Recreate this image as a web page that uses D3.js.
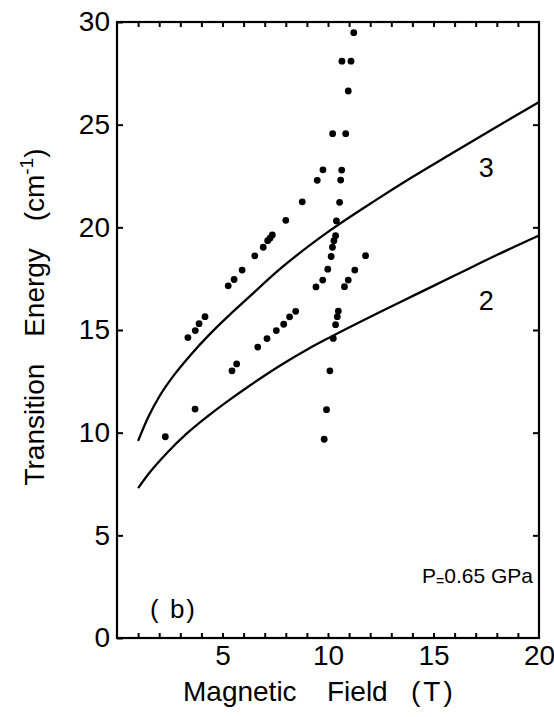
<!DOCTYPE html>
<html><head><meta charset="utf-8">
<script src="https://cdn.jsdelivr.net/npm/d3@7"></script>
<style>
body{margin:0;background:#fff}
svg{display:block}
text{font-family:"Liberation Sans",Arial,Helvetica,sans-serif;fill:#000}
</style>
</head><body>
<svg id="chart" width="554" height="717"></svg>
<script>
// ---- data ----
const xTickLabels = [5, 10, 15, 20];
const yTickLabels = [0, 5, 10, 15, 20, 25, 30];
const xMinorTicks = [1,2,3,4,5,6,7,8,9,10,11,12,13,14,15,16,17,18,19];

// measured transitions: magnetic field (T) and energy (cm^-1)
const fieldT = [
  2.29, 3.70, 3.36, 3.71, 3.89, 4.17, 5.27, 5.55, 5.93, 6.53, 6.93, 7.14, 7.25, 7.36, 8.00, 8.78, 9.49, 9.76,
  5.45, 5.67, 6.67, 7.11, 7.55, 7.90, 8.18, 8.47,
  9.82, 9.93, 10.09, 10.25, 10.36, 10.44, 10.49,
  9.43, 9.75, 9.99, 10.15, 10.21, 10.28, 10.36, 10.40, 10.55, 10.60, 10.65,
  10.78, 10.96, 11.27, 11.78,
  10.22, 10.84, 10.96, 10.66, 11.09, 11.22
];
const energy = [
  9.80, 11.15, 14.63, 14.97, 15.31, 15.65, 17.15, 17.46, 17.92, 18.61, 19.03, 19.35, 19.47, 19.63, 20.34, 21.24, 22.29, 22.80,
  13.01, 13.35, 14.17, 14.58, 14.97, 15.28, 15.64, 15.91,
  9.68, 11.12, 13.01, 14.59, 15.26, 15.65, 15.92,
  17.10, 17.43, 17.96, 18.58, 19.03, 19.35, 19.59, 20.31, 21.22, 22.30, 22.79,
  17.11, 17.43, 17.92, 18.62,
  24.56, 24.56, 26.64, 28.09, 28.09, 29.48
];

// theoretical curves
const curve3Field = [1.0, 1.5, 2.0, 2.7, 3.5, 4.4, 5.3, 6.2, 7.7, 10.1, 12.3, 14.0, 16.0, 18.0, 20.0];
const curve3Energy = [9.6, 10.8, 11.75, 12.8, 13.8, 14.8, 15.7, 16.55, 17.95, 19.85, 21.35, 22.45, 23.68, 24.9, 26.1];
const curve2Field = [1.0, 1.5, 2.4, 3.3, 4.3, 5.2, 6.3, 7.7, 9.1, 10.1, 12.9, 14.0, 16.0, 18.0, 20.0];
const curve2Energy = [7.3, 8.0, 9.05, 9.95, 10.8, 11.5, 12.3, 13.25, 14.1, 14.65, 16.1, 16.65, 17.65, 18.65, 19.6];

const curveLabels = ["3", "2"];
const curveLabelPos = [[17.5, 22.45], [17.5, 15.98]];

// ---- drawing ----
const svg = d3.select("#chart");
const x = d3.scaleLinear().domain([0, 20]).range([117, 539]);
const y = d3.scaleLinear().domain([0, 30]).range([638, 22]);

// frame
svg.append("rect")
  .attr("x", x(0)).attr("y", y(30))
  .attr("width", x(20) - x(0)).attr("height", y(0) - y(30))
  .attr("fill", "none").attr("stroke", "#000").attr("stroke-width", 2.2);

function styleAxis(g){
  g.select(".domain").remove();
  g.selectAll(".tick line").attr("stroke", "#000").attr("stroke-width", 2);
  g.selectAll(".tick text").style("font-size", "28px").attr("fill", "#000");
}

// bottom minor ticks
svg.append("g").attr("transform", `translate(0,${y(0)})`)
  .call(d3.axisBottom(x).tickValues(xMinorTicks).tickSize(-5).tickFormat(""))
  .call(styleAxis);
// bottom labels
svg.append("g").attr("transform", `translate(0,${y(0)})`)
  .call(d3.axisBottom(x).tickValues(xTickLabels).tickSize(0).tickPadding(7).tickFormat(d3.format("d")))
  .call(styleAxis);
// top ticks
svg.append("g").attr("transform", `translate(0,${y(30)})`)
  .call(d3.axisTop(x).tickValues(xMinorTicks).tickSize(-5).tickFormat(""))
  .call(styleAxis);
// left axis
svg.append("g").attr("transform", `translate(${x(0)},0)`)
  .call(d3.axisLeft(y).tickValues(yTickLabels).tickSize(-6).tickPadding(7).tickFormat(d3.format("d")))
  .call(styleAxis);
// right ticks
svg.append("g").attr("transform", `translate(${x(20)},0)`)
  .call(d3.axisRight(y).tickValues(yTickLabels.slice(1, -1)).tickSize(-6).tickFormat(""))
  .call(styleAxis);

// curves
const line = d3.line().x(d => x(d[0])).y(d => y(d[1])).curve(d3.curveMonotoneX);
const c3 = curve3Field.map((f, i) => [f, curve3Energy[i]]);
const c2 = curve2Field.map((f, i) => [f, curve2Energy[i]]);
[c3, c2].forEach(c => {
  svg.append("path").datum(c).attr("d", line)
    .attr("fill", "none").attr("stroke", "#000").attr("stroke-width", 2.3);
});

// points
svg.append("g").selectAll("circle")
  .data(fieldT.map((f, i) => [f, energy[i]]))
  .join("circle")
  .attr("cx", d => x(d[0])).attr("cy", d => y(d[1]))
  .attr("r", 3.4).attr("fill", "#000");

// curve labels
svg.append("g").selectAll("text")
  .data(curveLabels)
  .join("text")
  .attr("x", (d, i) => x(curveLabelPos[i][0]))
  .attr("y", (d, i) => y(curveLabelPos[i][1]))
  .attr("text-anchor", "middle")
  .style("font-size", "27px")
  .text(d => d);

// annotations
const pt = svg.append("text").attr("x", 422).attr("y", 583)
  .style("font-size", "21px");
pt.append("tspan").text("P");
pt.append("tspan").attr("dy", 3).style("font-size", "14px").text("=");
pt.append("tspan").attr("dy", -3).text("0.65 GPa");

svg.append("text").attr("x", 150).attr("y", 618).style("font-size", "26px")
  .style("letter-spacing", "2px")
  .attr("xml:space", "preserve").text("( b)");

// axis titles
const xt = svg.append("text").attr("y", 701).style("font-size", "28px");
xt.append("tspan").attr("x", 183).text("Magnetic");
xt.append("tspan").attr("x", 327).text("Field");
xt.append("tspan").attr("x", 411).style("letter-spacing", "3px").text("(T)");

const yt = svg.append("text")
  .attr("transform", "translate(44,317) rotate(-90)")
  .attr("text-anchor", "middle")
  .style("font-size", "28px").style("word-spacing", "19px");
yt.append("tspan").text("Transition Energy (cm");
yt.append("tspan").attr("dy", -11).style("font-size", "19px").text("-1");
yt.append("tspan").attr("dy", 11).text(")");
</script>
</body></html>
